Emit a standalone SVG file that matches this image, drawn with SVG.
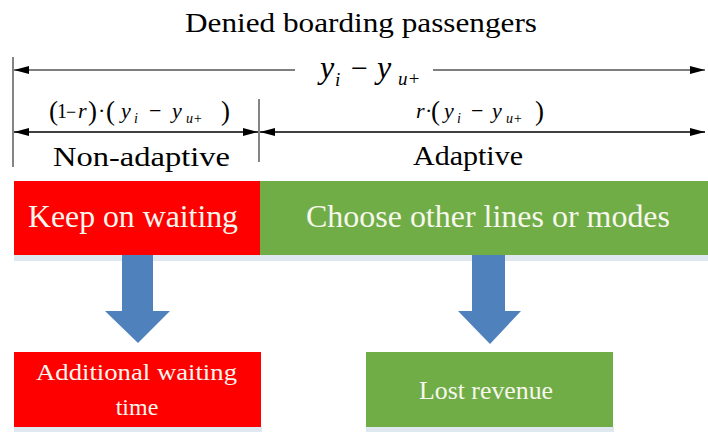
<svg xmlns="http://www.w3.org/2000/svg" width="708" height="432" viewBox="0 0 708 432" font-family="'Liberation Serif', 'Times New Roman', 'DejaVu Serif', serif">
<defs>
<style>
text{font-family:'Liberation Serif','Times New Roman','DejaVu Serif',serif}
.t{fill:#000}
.it{font-style:italic}
.bx{fill:#f7f7ee}
.blue{fill:#4f81bd}
.shadow{fill:#dfe7f1}
</style>
<marker id="ag" markerWidth="16" markerHeight="10" refX="15" refY="4" orient="auto-start-reverse" markerUnits="userSpaceOnUse">
<path d="M0,0 L15,4 L0,8 Z" fill="#000"/>
</marker>
</defs>
<rect width="708" height="432" fill="#fff"/>

<text id="title" class="t" x="185" y="32" font-size="27" textLength="352" lengthAdjust="spacingAndGlyphs">Denied boarding passengers</text>

<g id="connectors">
<line x1="13" y1="57" x2="13" y2="167" stroke="#333" stroke-width="1.2"/>
<line x1="259" y1="99" x2="259" y2="162" stroke="#333" stroke-width="1.2"/>
<line x1="14" y1="70" x2="295" y2="70" stroke="#555" stroke-width="1.6" marker-start="url(#ag)"/>
<line x1="433" y1="70" x2="705" y2="70" stroke="#555" stroke-width="1.6" marker-end="url(#ag)"/>
<line x1="14" y1="132" x2="258" y2="132" stroke="#000" stroke-width="1.6" marker-start="url(#ag)" marker-end="url(#ag)"/>
<line x1="260" y1="132" x2="705" y2="132" stroke="#000" stroke-width="1.6" marker-start="url(#ag)" marker-end="url(#ag)"/>
</g>

<g id="label-total" class="t">
<text class="it" x="320" y="78" font-size="32">y</text>
<text class="it" x="335" y="86" font-size="19">i</text>
<text x="351" y="78" font-size="30">−</text>
<text class="it" x="377" y="78" font-size="32">y</text>
<text class="it" x="398" y="85" font-size="19">u+</text>
</g>

<g id="label-nonadaptive-formula" class="t">
<text x="49" y="120" font-size="27">(</text>
<text x="57" y="118" font-size="20">1</text>
<text x="66" y="118" font-size="18">−</text>
<text class="it" x="78" y="118" font-size="22">r</text>
<text x="88" y="120" font-size="27">)</text>
<text x="98" y="118" font-size="22">·</text>
<text x="106" y="120" font-size="27">(</text>
<text class="it" x="121" y="118" font-size="22">y</text>
<text class="it" x="134" y="123" font-size="14">i</text>
<text x="149" y="118" font-size="22">−</text>
<text class="it" x="172" y="118" font-size="22">y</text>
<text class="it" x="186" y="123" font-size="14">u+</text>
<text x="221" y="120" font-size="27">)</text>
</g>

<g id="label-adaptive-formula" class="t">
<text class="it" x="416" y="118" font-size="22">r</text>
<text x="425" y="118" font-size="22">·</text>
<text x="431" y="120" font-size="27">(</text>
<text class="it" x="444" y="118" font-size="22">y</text>
<text class="it" x="457" y="123" font-size="14">i</text>
<text x="471" y="118" font-size="22">−</text>
<text class="it" x="492" y="118" font-size="22">y</text>
<text class="it" x="506" y="123" font-size="14">u+</text>
<text x="535" y="120" font-size="27">)</text>
</g>

<g id="label-nonadaptive">
<text class="t" x="53" y="166" font-size="27" textLength="177" lengthAdjust="spacingAndGlyphs">Non-adaptive</text>
</g>
<g id="label-adaptive">
<text class="t" x="413" y="165" font-size="27" textLength="110" lengthAdjust="spacingAndGlyphs">Adaptive</text>
</g>

<g id="shadows">
<rect class="shadow" x="14" y="255" width="694" height="6"/>
<rect class="shadow" x="14" y="427" width="248" height="5"/>
<rect class="shadow" x="366" y="427" width="248" height="5"/>
</g>

<g id="keep-waiting">
<rect x="14" y="181" width="246" height="74" fill="#ff0000"/>
<text class="bx" x="28" y="227" font-size="32" textLength="210" lengthAdjust="spacingAndGlyphs">Keep on waiting</text>
</g>

<g id="choose-other">
<rect x="260" y="181" width="448" height="74" fill="#70ad47"/>
<text class="bx" x="306" y="227" font-size="32" textLength="364" lengthAdjust="spacingAndGlyphs">Choose other lines or modes</text>
</g>

<g id="arrow-left">
<polygon class="blue" points="122,255 153,255 153,311 170,311 138,343 105,311 122,311"/>
</g>
<g id="arrow-right">
<polygon class="blue" points="472,255 505,255 505,311 521,311 490,344 458,311 472,311"/>
</g>

<g id="additional-waiting">
<rect x="14" y="352" width="247" height="75" fill="#ff0000"/>
<text class="bx" x="36" y="380" font-size="24" textLength="201" lengthAdjust="spacingAndGlyphs">Additional waiting</text>
<text class="bx" x="137" y="415" font-size="24" text-anchor="middle">time</text>
</g>

<g id="lost-revenue">
<rect x="366" y="352" width="247" height="75" fill="#70ad47"/>
<text class="bx" x="419" y="399" font-size="25" textLength="134" lengthAdjust="spacingAndGlyphs">Lost revenue</text>
</g>
</svg>
